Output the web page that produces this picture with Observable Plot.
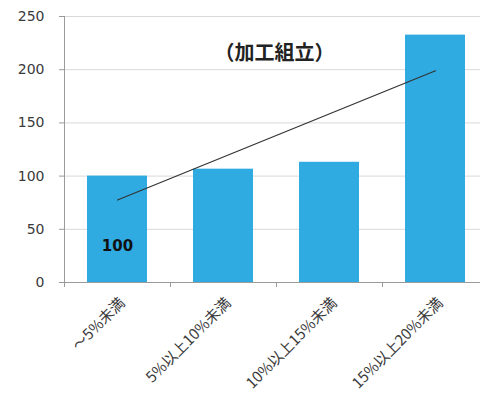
<!DOCTYPE html>
<html><head><meta charset="utf-8">
<script src="https://cdn.jsdelivr.net/npm/d3@7"></script>
<script src="https://cdn.jsdelivr.net/npm/@observablehq/plot@0.6"></script>
<style>
html,body{margin:0;padding:0;background:#fff;}
svg{font-family:"DejaVu Sans","Noto Sans CJK JP",sans-serif;}
</style>
</head><body>
<div id="chart"></div>
<script>
const categories = ["～5%未満", "5%以上10%未満", "10%以上15%未満", "15%以上20%未満"];
const values = [100, 106.5, 113, 232.5];
const trendCats = [categories[0], categories[3]];
const trendValues = [77.5, 199];
const yTicks = [0, 50, 100, 150, 200, 250];
const title = "（加工組立）";
const barLabel = "100";

const bars = categories.map((c, i) => ({cat: c, value: values[i]}));
const trend = trendCats.map((c, i) => ({cat: c, value: trendValues[i]}));

const chart = Plot.plot({
  width: 480,
  height: 397,
  marginTop: 16,
  marginBottom: 115,
  marginLeft: 64,
  marginRight: 0,
  style: {fontFamily: '"DejaVu Sans","Noto Sans CJK JP",sans-serif', background: "#fff"},
  x: {domain: categories, range: [64, 488], paddingInner: 0.434, paddingOuter: 0.217, label: null},
  y: {domain: [0, 250], label: null},
  marks: [
    Plot.gridY(yTicks, {stroke: "#d9d9d9", strokeOpacity: 1}),
    Plot.barY(bars, {x: "cat", y: "value", fill: "#2FABE2"}),
    Plot.line(trend, {x: "cat", y: "value", stroke: "#333", strokeWidth: 1.2}),
    Plot.frame({anchor: "left", stroke: "#9a9a9a"}),
    Plot.ruleY([0], {stroke: "#9a9a9a"}),
    Plot.axisY({ticks: yTicks, tickSize: 5, tickFormat: () => "", stroke: "#9a9a9a"}),
    Plot.axisY({ticks: yTicks, tickSize: 0, tickPadding: 20, fontSize: 14, fill: "#3a3a3a"}),
    Plot.axisX({ticks: categories, tickSize: 5, tickFormat: () => "", dx: -53, stroke: "#9a9a9a"}),
    Plot.axisX({tickSize: 0, tickPadding: 18, dx: 5, tickRotate: -45, fontSize: 15, fill: "#3a3a3a", fontFamily: '"Noto Sans CJK JP",sans-serif'}),
    Plot.text([title], {frameAnchor: "top", dy: 29, dx: 2, text: d => d, fontSize: 20, fontWeight: "bold", fill: "#222", fontFamily: '"Noto Sans CJK JP",sans-serif'}),
    Plot.text([barLabel], {x: () => categories[0], frameAnchor: "bottom", dy: -32, text: d => d, fontSize: 15, fontWeight: "bold", fill: "#111"})
  ]
});
document.getElementById("chart").appendChild(chart);
</script>
</body></html>
